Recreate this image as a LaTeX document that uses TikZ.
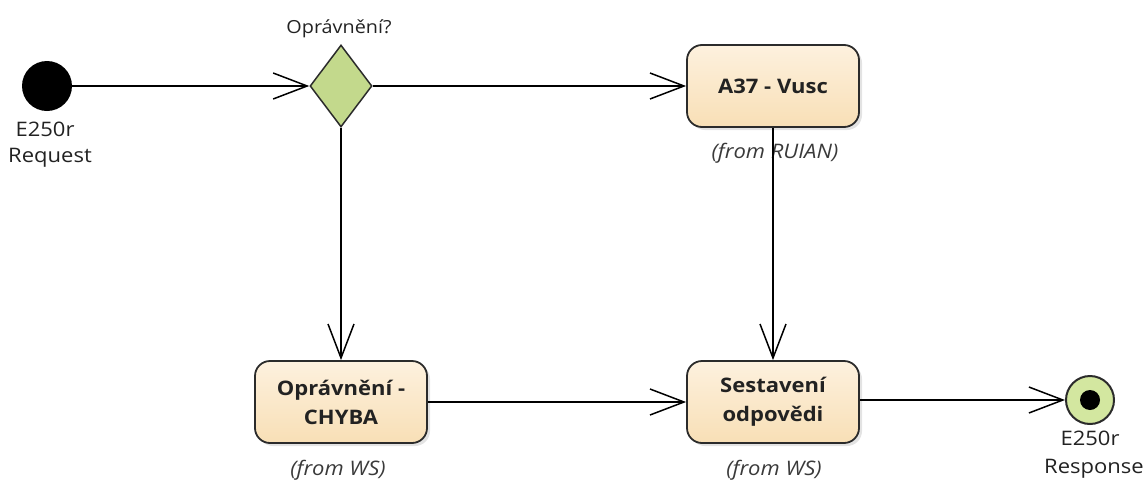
\documentclass[tikz,border=0pt]{standalone}
\usepackage{fontspec}
\setmainfont{Open Sans}[FakeStretch=1.1]
\usetikzlibrary{arrows.meta,shapes.geometric,shadows}
\definecolor{boxtop}{HTML}{FDF1DE}
\definecolor{boxbot}{HTML}{F8DFB6}
\definecolor{decfill}{HTML}{C3D98C}
\definecolor{endfill}{HTML}{D3E7A0}
\definecolor{edgecol}{HTML}{2B2B2B}
\definecolor{txtcol}{HTML}{222222}
\definecolor{fromcol}{HTML}{3A3A3A}
\begin{document}
\begin{tikzpicture}[x=1pt,y=-1pt,
  activity/.style={draw=edgecol, line width=1.8pt, rounded corners=15pt,
    top color=boxtop, bottom color=boxbot, minimum width=172pt, minimum height=82pt,
    font=\fontsize{20}{29}\selectfont\bfseries, text=txtcol, align=center, inner sep=0pt,
    drop shadow={shadow xshift=3pt, shadow yshift=-3pt, opacity=0.22, fill=gray}},
  flow/.style={draw=black, line width=1.5pt,
    -{Straight Barb[length=34pt,width=26pt,line width=1.5pt]}},
  lbl/.style={font=\fontsize{20}{27}\selectfont, text=txtcol, inner sep=0pt, anchor=base},
  fromlbl/.style={font=\fontsize{20}{27}\selectfont\itshape, text=fromcol, inner sep=0pt, anchor=base}
]
\useasboundingbox (0,0) rectangle (1143,482);

\node[circle, fill=black, minimum size=50pt, inner sep=0pt] (start) at (47,86) {};
\node[lbl] (startlbl1) at (45,136) {E250r};
\node[lbl] (startlbl2) at (50,162) {Request};

\node[diamond, draw=edgecol, line width=1.5pt, fill=decfill, minimum width=62pt,
      minimum height=82pt, inner sep=0pt] (dec) at (341,86) {};
\node[lbl, font=\fontsize{18}{24}\selectfont] (declbl) at (339,33) {Oprávnění?};

\node[activity] (a37) at (773,86) {A37 - Vusc};
\node[fromlbl] (a37from) at (775,158) {(from RUIAN)};

\node[activity] (chyba) at (341,402) {Oprávnění -\\CHYBA};
\node[fromlbl] (chybafrom) at (338,475) {(from WS)};

\node[activity] (sest) at (773,402) {Sestavení\\odpovědi};
\node[fromlbl] (sestfrom) at (774,475) {(from WS)};

\node[circle, draw=edgecol, line width=2pt, fill=endfill, minimum size=48pt, inner sep=0pt] (end) at (1090,400) {};
\node[circle, fill=black, minimum size=20pt, inner sep=0pt] (enddot) at (end.center) {};
\node[lbl] (endlbl1) at (1090,445) {E250r};
\node[lbl] (endlbl2) at (1094,473) {Response};

\draw[flow] (start) -- (dec);
\draw[flow] (dec) -- (a37);
\draw[flow] (dec) -- (chyba);
\draw[flow] (a37) -- (sest);
\draw[flow] (chyba) -- (sest);
\draw[flow] (sest.east |- end) -- (end);
\end{tikzpicture}
\end{document}
